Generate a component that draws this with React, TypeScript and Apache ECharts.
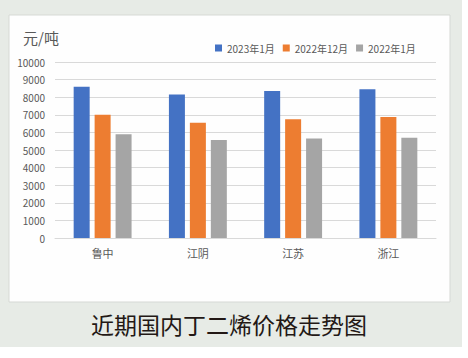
import React, { useEffect, useRef } from "react";
import * as echarts from "echarts";

const categories = ["鲁中", "江阴", "江苏", "浙江"];
const seriesNames = ["2023年1月", "2022年12月", "2022年1月"];
const jan2023 = [8600, 8150, 8350, 8450];
const dec2022 = [7000, 6550, 6750, 6870];
const jan2022 = [5900, 5570, 5650, 5700];
const colors = ["#4472C4", "#ED7D31", "#A5A5A5"];
const unitLabel = "元/吨";
const captionText = "近期国内丁二烯价格走势图";

const FONT = "'Noto Sans CJK SC', 'Noto Sans', sans-serif";

export default function App() {
  const ref = useRef<HTMLDivElement>(null);
  useEffect(() => {
    if (!ref.current) return;
    const chart = echarts.init(ref.current, undefined, { renderer: "svg" });
    const data = [jan2023, dec2022, jan2022];
    chart.setOption({
      animation: false,
      backgroundColor: "#ffffff",
      textStyle: { fontFamily: FONT },
      graphic: [
        {
          type: "rect",
          z: -10,
          silent: true,
          shape: { x: 0, y: 0, width: 462, height: 347 },
          style: { fill: "#e7ebe6" },
        },
        {
          type: "rect",
          z: -9,
          silent: true,
          shape: { x: 9, y: 15, width: 441, height: 287 },
          style: { fill: "#fefefe", stroke: "#d6d9d5", lineWidth: 1 },
        },
        {
          type: "text",
          x: 23,
          y: 30,
          style: {
            text: unitLabel,
            fill: "#595959",
            font: `15px ${FONT}`,
          },
        },
        {
          type: "text",
          x: 229,
          y: 324,
          style: {
            text: captionText,
            fill: "#231815",
            font: `23px ${FONT}`,
            align: "center",
            verticalAlign: "middle",
          },
        },
      ],
      legend: {
        left: 210,
        top: 38,
        itemWidth: 7,
        itemHeight: 7,
        itemGap: 8,
        icon: "rect",
        textStyle: { fontSize: 10, color: "#595959", fontFamily: FONT },
        data: seriesNames,
      },
      grid: { left: 55, right: 32, top: 62, bottom: 120, containLabel: false },
      xAxis: {
        type: "category",
        data: categories,
        axisLine: { lineStyle: { color: "#d9d9d9" } },
        axisTick: { show: false },
        axisLabel: { fontSize: 11, color: "#595959", margin: 9, fontFamily: FONT },
      },
      yAxis: {
        type: "value",
        min: 0,
        max: 10000,
        interval: 1000,
        axisLine: { show: false },
        axisTick: { show: false },
        axisLabel: {
          fontSize: 10,
          color: "#595959",
          margin: 10,
          fontFamily: FONT,
          formatter: (v: number) => String(v),
        },
        splitLine: { lineStyle: { color: "#d9d9d9" } },
      },
      series: seriesNames.map((name, i) => ({
        name,
        type: "bar",
        data: data[i],
        barWidth: 16,
        barGap: "31%",
        itemStyle: { color: colors[i] },
      })),
    });
    return () => chart.dispose();
  }, []);
  return (
    <div
      ref={ref}
      style={{ position: "fixed", left: 0, top: 0, width: 468, height: 358 }}
    />
  );
}
